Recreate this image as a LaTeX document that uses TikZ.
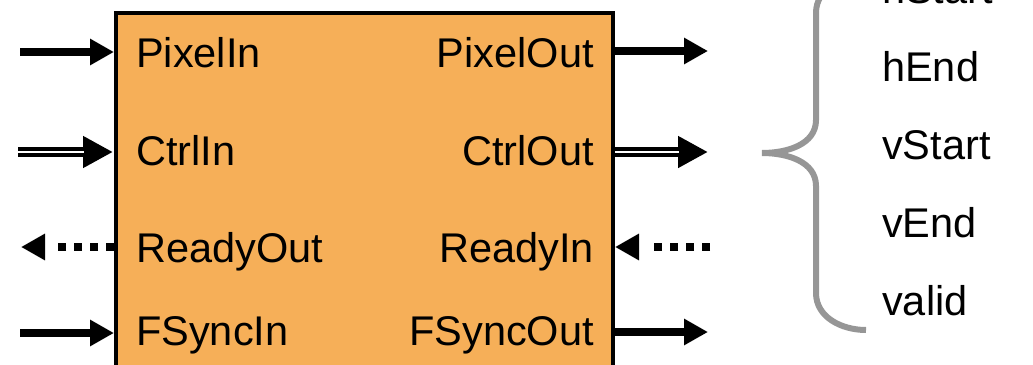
\documentclass[tikz,border=0pt]{standalone}
\usepackage{fontspec}
\setmainfont{Liberation Sans}
\usetikzlibrary{arrows.meta}
\definecolor{blkfill}{RGB}{246,175,88}
\definecolor{bracegray}{RGB}{150,150,150}

\begin{document}
\begin{tikzpicture}[x=1pt, y=-1pt, >={Triangle[length=24pt,width=25pt]},
lbl/.style={inner sep=0pt, font=\fontsize{41.5}{50}\selectfont},
blk/.style={draw, line width=4pt, fill=blkfill, minimum width=497.5pt, minimum height=355.5pt, inner sep=0pt},
sig/.style={->, line width=8pt},
ctrl/.style={-{Triangle[length=30pt,width=30pt]}, line width=10pt},
ctrlgap/.style={white, line width=2.5pt, shorten >=29pt},
rdy/.style={->, line width=8pt, dash pattern=on 8.5pt off 7.5pt on 8.5pt off 7.5pt on 8.5pt off 7.5pt on 8.5pt off 60pt},
brc/.style={draw=bracegray, line width=6pt}]

\useasboundingbox (0,0) rectangle (1033,364);
\clip (0,0) rectangle (1033,364);

\node[blk] (blk) at (364.25,190.25) {};

% ports on the left
\node[lbl, anchor=base west] (pixin) at (136,67) {PixelIn};
\node[lbl, anchor=base west] (ctrlin) at (136,165) {CtrlIn};
\node[lbl, anchor=base west] (rdyout) at (136,262) {ReadyOut};
\node[lbl, anchor=base west] (fsin) at (136,345) {FSyncIn};

% ports on the right
\node[lbl, anchor=base east] (pixout) at (594,67) {PixelOut};
\node[lbl, anchor=base east] (ctrlout) at (594,165) {CtrlOut};
\node[lbl, anchor=base east] (rdyin) at (594,262) {ReadyIn};
\node[lbl, anchor=base east] (fsout) at (594,345) {FSyncOut};

\coordinate (pixinA) at (20,52);   \coordinate (pixinB) at (114,52);
\coordinate (ctrlinA) at (18,152); \coordinate (ctrlinB) at (113,152);
\coordinate (rdyoutA) at (114,247); \coordinate (rdyoutB) at (21,247);
\coordinate (fsinA) at (20,333);   \coordinate (fsinB) at (114,333);
\coordinate (pixoutA) at (613,51);  \coordinate (pixoutB) at (708,51);
\coordinate (ctrloutA) at (613,152); \coordinate (ctrloutB) at (708,152);
\coordinate (rdyinA) at (710,247);  \coordinate (rdyinB) at (615,247);
\coordinate (fsoutA) at (613,332);  \coordinate (fsoutB) at (708,332);

\draw[sig] (pixinA) -- (pixinB);
\draw[ctrl] (ctrlinA) -- (ctrlinB);
\draw[ctrlgap] (ctrlinA) -- (ctrlinB);
\draw[rdy] (rdyoutA) -- (rdyoutB);
\draw[sig] (fsinA) -- (fsinB);
\draw[sig] (pixoutA) -- (pixoutB);
\draw[ctrl] (ctrloutA) -- (ctrloutB);
\draw[ctrlgap, shorten <=2pt] (ctrloutA) -- (ctrloutB);
\draw[rdy] (rdyinA) -- (rdyinB);
\draw[sig] (fsoutA) -- (fsoutB);

% control bus brace
\draw[brc] (866,-24) to[out=180,in=90] (816,13) -- (816,120)
  to[out=-90,in=0] (762,153) to[out=0,in=90] (816,186) -- (816,293)
  to[out=-90,in=180] (866,330);

\node[lbl, anchor=base west] (hstart) at (882,3) {hStart};
\node[lbl, anchor=base west] (hend) at (882,81) {hEnd};
\node[lbl, anchor=base west] (vstart) at (882,159) {vStart};
\node[lbl, anchor=base west] (vend) at (882,237) {vEnd};
\node[lbl, anchor=base west] (valid) at (882,315) {valid};
\end{tikzpicture}
\end{document}
